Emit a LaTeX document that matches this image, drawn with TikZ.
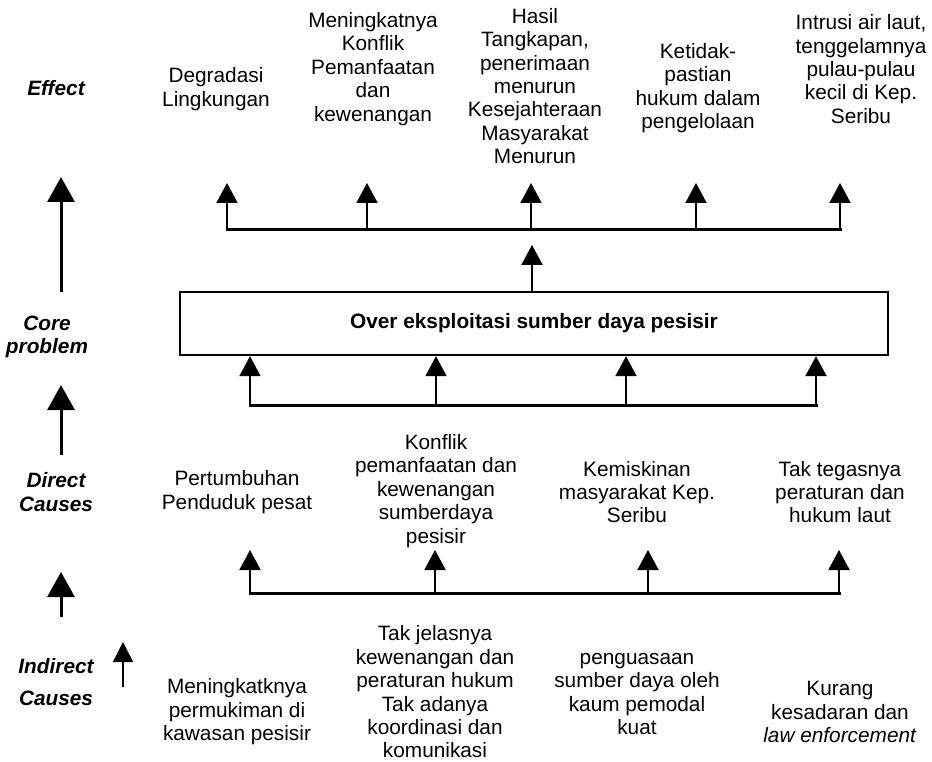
\documentclass[tikz,border=0pt]{standalone}
\usepackage{fontspec}
\setmainfont{Liberation Sans}
\usetikzlibrary{arrows.meta}
\begin{document}
\begin{tikzpicture}[x=1pt,y=-1pt,
  txt/.style={align=center, inner sep=0pt, font=\fontsize{20.8}{23.4}\selectfont},
  lbl/.style={align=center, inner sep=0pt, font=\fontsize{20.8}{23.4}\selectfont\bfseries\itshape},
  bar/.style={line width=3pt, line cap=rect},
  arr/.style={line width=2pt, -{Triangle[length=20pt,width=21pt]}},
  bigarr/.style={line width=3pt, -{Triangle[length=25pt,width=27pt]}},
  thinarr/.style={line width=1.6pt, -{Triangle[length=20pt,width=20pt]}},
  corebox/.style={draw, line width=2.4pt, minimum width=708pt, minimum height=63pt, inner sep=0pt,
                  font=\fontsize{20.8}{23.4}\selectfont\bfseries}]
\useasboundingbox (0,0) rectangle (932,762);

% ---------- left column labels ----------
\node[lbl] (lE) at (56,88) {Effect};
\node[lbl] (lC) at (47,337) {Core\\problem};
\node[lbl] (lD) at (56,492) {Direct\\Causes};
\node[lbl] (lI) at (56,682) {Indirect\\[8.6pt]Causes};

% left column arrows
\coordinate (a1s) at (61,292); \coordinate (a1t) at (61,177);
\coordinate (a2s) at (61,455); \coordinate (a2t) at (61,385);
\coordinate (a3s) at (61,617); \coordinate (a3t) at (61,572);
\coordinate (a4s) at (123,687); \coordinate (a4t) at (123,642);
\draw[bigarr] (a1s) -- (a1t);
\draw[bigarr] (a2s) -- (a2t);
\draw[bigarr] (a3s) -- (a3t);
\draw[thinarr] (a4s) -- (a4t);

% ---------- effects ----------
\node[txt] (e1) at (216,89) {Degradasi\\Lingkungan};
\node[txt] (e2) at (373,69) {Meningkatnya\\Konflik\\Pemanfaatan\\dan\\kewenangan};
\node[txt] (e3) at (535,86) {Hasil\\Tangkapan,\\penerimaan\\menurun\\Kesejahteraan\\Masyarakat\\Menurun};
\node[txt] (e4) at (698,88) {Ketidak-\\pastian\\hukum dalam\\pengelolaan};
\node[txt] (e5) at (861,69) {Intrusi air laut,\\tenggelamnya\\pulau-pulau\\kecil di Kep.\\Seribu};

\coordinate (eb1) at (227,230); \coordinate (et1) at (227,183);
\coordinate (eb2) at (367,230); \coordinate (et2) at (367,183);
\coordinate (eb3) at (531,230); \coordinate (et3) at (531,183);
\coordinate (eb4) at (696,230); \coordinate (et4) at (696,183);
\coordinate (eb5) at (840,230); \coordinate (et5) at (840,183);
\draw[bar] (eb1) -- (eb5);
\foreach \i in {1,...,5} \draw[arr] (eb\i) -- (et\i);

% ---------- core problem ----------
\node[corebox] (core) at (534,323.5) {Over eksploitasi sumber daya pesisir};
\coordinate (ct) at (532,245);
\draw[arr] (core.north -| ct) -- (ct);

\coordinate (cb1) at (250,405); \coordinate (cb2) at (436,405);
\coordinate (cb3) at (626,405); \coordinate (cb4) at (816,405);
\draw[bar] (cb1) -- (cb4);
\foreach \i in {1,...,4} \draw[arr] (cb\i) -- (core.south -| cb\i);

% ---------- direct causes ----------
\node[txt] (d1) at (237,492) {Pertumbuhan\\Penduduk pesat};
\node[txt] (d2) at (436,491) {Konflik\\pemanfaatan dan\\kewenangan\\sumberdaya\\pesisir};
\node[txt] (d3) at (637,492) {Kemiskinan\\masyarakat Kep.\\Seribu};
\node[txt] (d4) at (840,492) {Tak tegasnya\\peraturan dan\\hukum laut};

\coordinate (db1) at (250,593); \coordinate (dt1) at (250,550);
\coordinate (db2) at (435,593); \coordinate (dt2) at (435,550);
\coordinate (db3) at (648,593); \coordinate (dt3) at (648,550);
\coordinate (db4) at (839,593); \coordinate (dt4) at (839,550);
\draw[bar] (db1) -- (db4);
\foreach \i in {1,...,4} \draw[arr] (db\i) -- (dt\i);

% ---------- indirect causes ----------
\node[txt] (i1) at (237,712) {Meningkatknya\\permukiman di\\kawasan pesisir};
\node[txt] (i2) at (435,692) {Tak jelasnya\\kewenangan dan\\peraturan hukum\\Tak adanya\\koordinasi dan\\komunikasi};
\node[txt] (i3) at (637,694) {penguasaan\\sumber daya oleh\\kaum pemodal\\kuat};
\node[txt] (i4) at (840,712) {Kurang\\kesadaran dan\\\textit{law enforcement}};
\end{tikzpicture}
\end{document}
